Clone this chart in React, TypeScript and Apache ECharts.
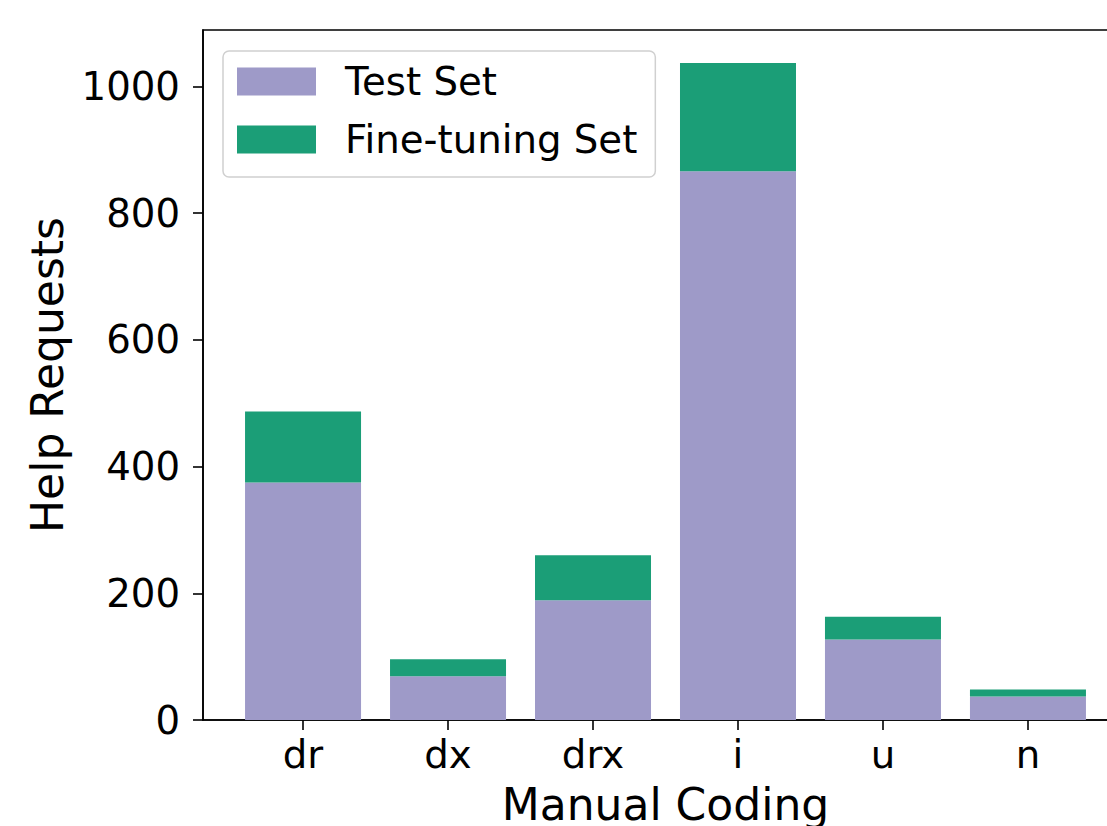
import React, { useEffect, useRef } from "react";
import * as echarts from "echarts";

const categories = ["dr", "dx", "drx", "i", "u", "n"];
const testSet = [375, 69, 189, 866, 127, 37];
const fineTuningSet = [112, 27, 71, 171, 36, 11];
const tickPositions = [0, 1, 2, 3, 4, 5];
const yTicks = [0, 200, 400, 600, 800, 1000];

export default function App() {
  const ref = useRef<HTMLDivElement>(null);
  useEffect(() => {
    document.body.style.margin = "0";
    const chart = echarts.init(ref.current!, null, { renderer: "svg" });
    const font = "DejaVu Sans";
    chart.setOption({
      animation: false,
      textStyle: { fontFamily: font },
      grid: {
        left: 203,
        right: -21,
        top: 30,
        bottom: 106,
        outerBoundsMode: "none",
        containLabel: false,
        show: true,
        borderColor: "#000",
        borderWidth: 1.6,
        backgroundColor: "transparent",
      },
      legend: {
        orient: "vertical",
        left: 223,
        top: 51,
        padding: [11, 18, 18, 14],
        itemWidth: 79,
        itemHeight: 28,
        itemGap: 19,
        backgroundColor: "rgba(255,255,255,0.8)",
        borderColor: "#d0d0d0",
        borderWidth: 1.5,
        borderRadius: 6,
        textStyle: {
          fontSize: 38.7,
          lineHeight: 38,
          color: "#000",
          fontFamily: font,
          padding: [0, 0, 0, 24],
        },
        data: [
          { name: "Test Set", icon: "rect" },
          { name: "Fine-tuning Set", icon: "rect" },
        ],
      },
      xAxis: {
        type: "value",
        min: -0.69,
        max: 5.69,
        name: "Manual Coding",
        nameLocation: "middle",
        nameGap: 62,
        nameTextStyle: { fontSize: 44, color: "#000", fontFamily: font },
        axisLine: { show: true, onZero: false, lineStyle: { color: "#000", width: 1.6 } },
        axisTick: {
          show: true,
          length: 10,
          customValues: tickPositions,
          lineStyle: { color: "#000", width: 1.6 },
        },
        axisLabel: {
          customValues: tickPositions,
          formatter: (v: number) => categories[Math.round(v)] ?? "",
          fontSize: 38.7,
          color: "#000",
          margin: 15,
          fontFamily: font,
        },
        splitLine: { show: false },
      },
      yAxis: {
        type: "value",
        min: 0,
        max: 1089,
        name: "Help Requests",
        nameLocation: "middle",
        nameGap: 134,
        nameTextStyle: { fontSize: 44, color: "#000", fontFamily: font },
        axisLine: { show: true, onZero: false, lineStyle: { color: "#000", width: 1.6 } },
        axisTick: {
          show: true,
          length: 10,
          customValues: yTicks,
          lineStyle: { color: "#000", width: 1.6 },
        },
        axisLabel: {
          customValues: yTicks,
          formatter: (v: number) => String(v),
          fontSize: 38.7,
          color: "#000",
          margin: 23,
          fontFamily: font,
        },
        splitLine: { show: false },
      },
      series: [
        {
          name: "Test Set",
          type: "bar",
          stack: "total",
          barWidth: 116,
          itemStyle: { color: "#9e9ac8" },
          encode: { x: 1, y: 0 },
          data: testSet.map((v, i) => [v, tickPositions[i]]),
        },
        {
          name: "Fine-tuning Set",
          type: "bar",
          stack: "total",
          barWidth: 116,
          itemStyle: { color: "#1b9e77" },
          encode: { x: 1, y: 0 },
          data: fineTuningSet.map((v, i) => [v, tickPositions[i]]),
        },
      ],
    });
    return () => chart.dispose();
  }, []);
  return <div ref={ref} style={{ width: 1107, height: 826 }} />;
}
